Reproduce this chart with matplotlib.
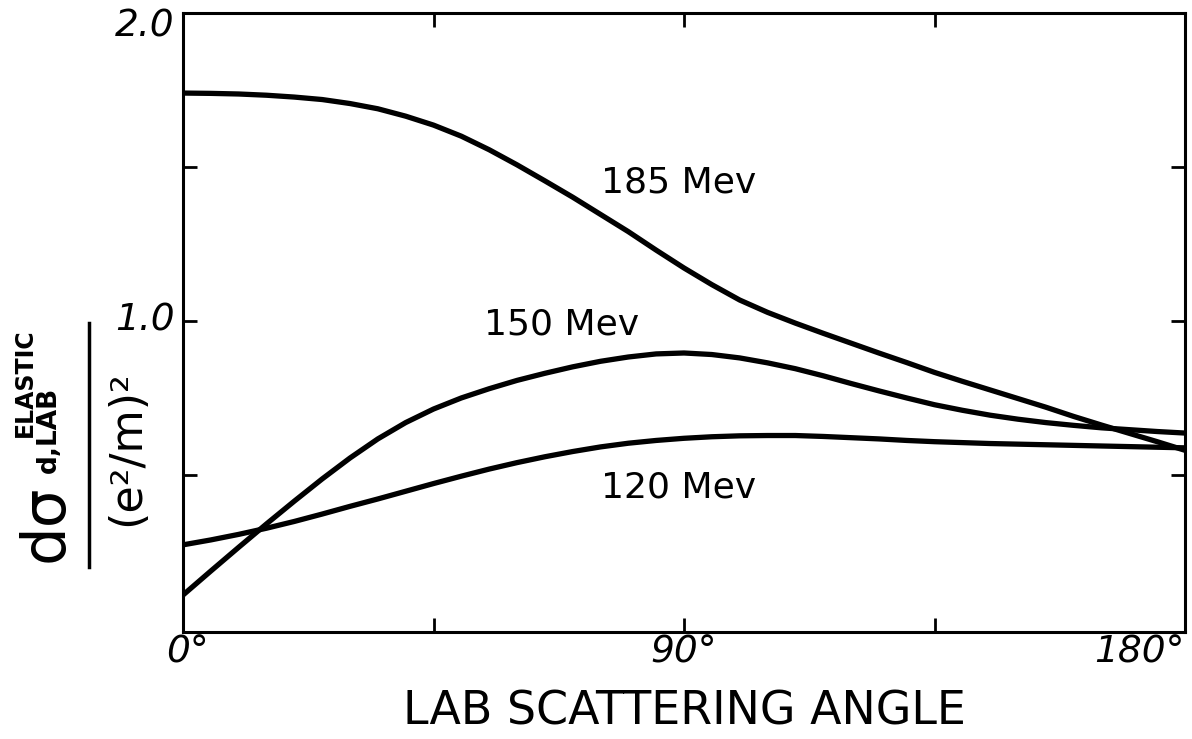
import matplotlib
matplotlib.use("Agg")
import matplotlib.pyplot as plt
from matplotlib.lines import Line2D

# --- datos (cada 5 grados) ---
angles = list(range(0, 181, 5))
mev185 = [1.740, 1.739, 1.737, 1.733, 1.727, 1.719, 1.706, 1.689, 1.665, 1.636,
          1.600, 1.556, 1.507, 1.455, 1.402, 1.346, 1.290, 1.230, 1.172, 1.118,
          1.068, 1.028, 0.993, 0.960, 0.928, 0.896, 0.865, 0.833, 0.804, 0.776,
          0.748, 0.720, 0.690, 0.662, 0.635, 0.608, 0.580]
mev150 = [0.110, 0.188, 0.265, 0.341, 0.415, 0.487, 0.555, 0.617, 0.670, 0.714,
          0.750, 0.780, 0.807, 0.830, 0.851, 0.869, 0.883, 0.893, 0.896, 0.891,
          0.880, 0.864, 0.845, 0.822, 0.797, 0.773, 0.750, 0.728, 0.710, 0.694,
          0.681, 0.670, 0.661, 0.653, 0.647, 0.641, 0.636]
mev120 = [0.273, 0.289, 0.307, 0.327, 0.349, 0.373, 0.398, 0.422, 0.447, 0.472,
          0.496, 0.519, 0.540, 0.559, 0.576, 0.591, 0.603, 0.612, 0.619, 0.624,
          0.627, 0.628, 0.628, 0.625, 0.621, 0.617, 0.612, 0.608, 0.605, 0.602,
          0.600, 0.598, 0.596, 0.594, 0.592, 0.590, 0.588]
series = [("185 Mev", mev185), ("150 Mev", mev150), ("120 Mev", mev120)]
label_pos = {"185 Mev": (89, 1.45), "150 Mev": (68, 0.99), "120 Mev": (89, 0.46)}
xticks = [45, 90, 135]
yticks = [0.5, 1.0, 1.5]
xticklabels = {0: "0°", 90: "90°", 180: "180°"}
yticklabels = {1.0: "1.0", 2.0: "2.0"}

W, H = 1192, 739
fig = plt.figure(figsize=(W / 100, H / 100), dpi=100)
ax = fig.add_axes([183 / W, 1 - 632 / H, (1185 - 183) / W, (632 - 13) / H])

for name, vals in series:
    ax.plot(angles, vals, color="black", lw=3.8, solid_capstyle="round",
            solid_joinstyle="round")
    x, y = label_pos[name]
    ax.text(x, y, name, fontsize=26, ha="center", va="center")

ax.set_xlim(0, 180)
ax.set_ylim(-0.01, 2.0)
ax.set_xticks(xticks)
ax.set_yticks(yticks)
ax.set_xticklabels([]); ax.set_yticklabels([])
ax.tick_params(direction="in", length=10, width=2, top=True, right=True)
for s in ax.spines.values():
    s.set_linewidth(2.2)

# etiquetas de los ejes dibujadas a mano (cursiva)
for v, t in xticklabels.items():
    ha = {0: "left", 90: "center", 180: "right"}[v]
    dx = {0: -3, 90: 0, 180: 0}[v]
    ax.text(v + dx, -0.075, t, fontsize=27, style="italic", ha=ha, va="center")
for v, t in yticklabels.items():
    ax.text(-1.5, v - (0.045 if v == 2.0 else 0), t, fontsize=27, style="italic",
            ha="right", va="center")

ax.text(90, -0.27, "LAB SCATTERING ANGLE", fontsize=33, ha="center", va="center")

# etiqueta del eje y: fracción girada
def fx(px): return px / W
def fy(py): return 1 - py / H

fig.text(fx(46), fy(523), "dσ", fontsize=44, rotation=90, ha="center", va="center")
fig.text(fx(25), fy(383), "ELASTIC", fontsize=17, weight="bold", rotation=90,
         ha="center", va="center")
fig.text(fx(49), fy(430), "d,LAB", fontsize=19, weight="bold", rotation=90,
         ha="center", va="center")
fig.add_artist(Line2D([fx(89), fx(89)], [fy(323), fy(567)], color="black", lw=2.5))
fig.text(fx(127), fy(448), "(e²/m)²", fontsize=32, rotation=90, ha="center", va="center")

fig.savefig("out.png", dpi=100)
plt.close(fig)
